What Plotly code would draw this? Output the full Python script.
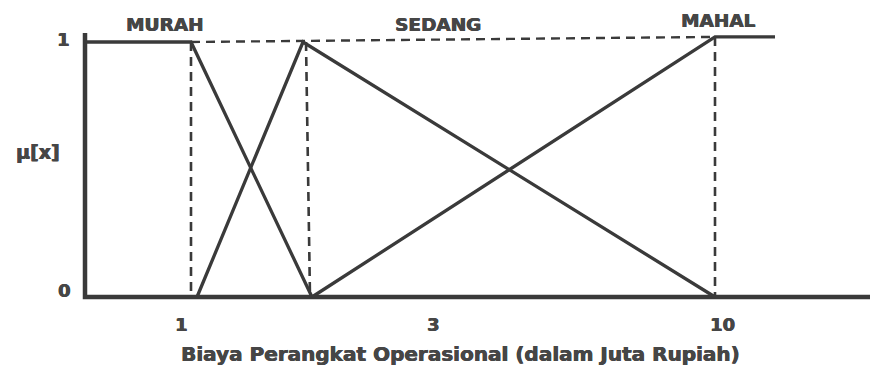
import plotly.graph_objects as go

# Membership functions drawn on a schematic horizontal axis (positions along the axis)
murah_pos = [85, 191, 312]
murah_mu = [1, 1, 0]
sedang_pos = [197, 303, 715]
sedang_mu = [0, 1, 0]
mahal_pos = [312, 715, 775]
mahal_mu = [0, 1.02, 1.02]

# Tick labels on the horizontal axis and where they sit
tick_text = ["1", "3", "10"]
tick_pos = [181, 433, 722]

# Set names and where they sit
set_names = ["MURAH", "SEDANG", "MAHAL"]
set_pos = [164, 438, 718]
set_mu = [1.067, 1.069, 1.086]

# Dashed guides
guide_v = [(191, 191, 1.0), (306, 310, 1.0), (715, 715, 1.02)]
guide_h_pos = [191, 715]
guide_h_mu = [1.0, 1.02]

LINE = "#3a3a3a"
TEXT = "#464646"
FONT = "DejaVu Sans, Verdana, sans-serif"
HEAVY = "0.5px 0 0 #464646, -0.3px 0 0 #464646"

# axis range chosen so that mu=0 and mu=1 land on the baseline and the top line
y_lo, y_hi = -69 / 255, 297 / 255

fig = go.Figure()

# vertical guides (dashed)
for p_top, p_bot, top in guide_v:
    fig.add_trace(go.Scatter(x=[p_top, p_bot], y=[top, 0], mode="lines",
                             line=dict(color=LINE, width=2.6, dash="9px,6px"),
                             hoverinfo="skip", showlegend=False))
# horizontal guide (dashed)
fig.add_trace(go.Scatter(x=guide_h_pos, y=guide_h_mu, mode="lines",
                         line=dict(color=LINE, width=2.4, dash="9px,6px"),
                         hoverinfo="skip", showlegend=False))

# axes
fig.add_trace(go.Scatter(x=[85, 85, 870], y=[1.035, 0, 0], mode="lines",
                         line=dict(color=LINE, width=4.5),
                         hoverinfo="skip", showlegend=False))

# membership curves
for name, xs, ys in [("MURAH", murah_pos, murah_mu),
                     ("SEDANG", sedang_pos, sedang_mu),
                     ("MAHAL", mahal_pos, mahal_mu)]:
    fig.add_trace(go.Scatter(x=xs, y=ys, mode="lines", name=name,
                             line=dict(color=LINE, width=3.3),
                             showlegend=False))


def label(x, y, text, size):
    return dict(x=x, y=y, text=f"<b>{text}</b>", showarrow=False,
                font=dict(family=FONT, size=size, color=TEXT, shadow=HEAVY),
                xanchor="center", yanchor="middle")


annotations = []
for t, p, m in zip(set_names, set_pos, set_mu):
    annotations.append(label(p, m, t, 18.5))
for t, p in zip(tick_text, tick_pos):
    annotations.append(label(p, -0.106, t, 18))
annotations += [
    label(63, (297 - 39) / 255, "1", 18),
    label(64, 0.024, "0", 18),
    label(38, (297 - 152) / 255, "μ[x]", 19),
    label(460, -(354 - 297) / 255, "Biaya Perangkat Operasional (dalam Juta Rupiah)", 20),
]

fig.update_layout(
    width=870, height=366,
    margin=dict(l=0, r=0, t=0, b=0),
    paper_bgcolor="white", plot_bgcolor="white",
    xaxis=dict(range=[0, 870], visible=False, fixedrange=True),
    yaxis=dict(range=[y_lo, y_hi], visible=False, fixedrange=True),
    annotations=annotations,
)

fig.write_html("out.html")
